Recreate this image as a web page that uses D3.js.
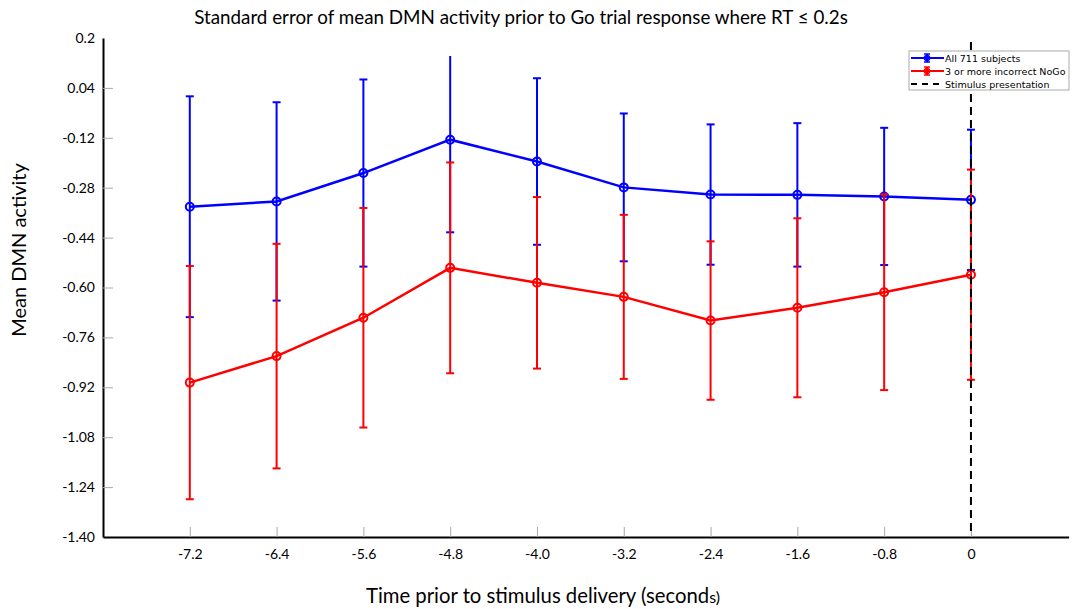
<!DOCTYPE html>
<html>
<head>
<meta charset="utf-8">
<script src="https://cdn.jsdelivr.net/npm/d3@7"></script>
<style>
  body { margin: 0; background: #fff; }
  svg { display: block; font-family: Lato, "Open Sans", sans-serif; }
</style>
</head>
<body>
<div id="chart"></div>
<script>
// time points (seconds before stimulus)
const times = [-7.2, -6.4, -5.6, -4.8, -4.0, -3.2, -2.4, -1.6, -0.8, 0];
const xTickLabels = ["-7.2", "-6.4", "-5.6", "-4.8", "-4.0", "-3.2", "-2.4", "-1.6", "-0.8", "0"];
const yTickLabels = ["0.2", "0.04", "-0.12", "-0.28", "-0.44", "-0.60", "-0.76", "-0.92", "-1.08", "-1.24", "-1.40"];

// All 711 subjects
const allMean = [-0.341, -0.324, -0.233, -0.126, -0.196, -0.279, -0.302, -0.303, -0.308, -0.319];
const allSE   = [0.354, 0.318, 0.300, 0.297, 0.267, 0.237, 0.225, 0.230, 0.220, 0.225];
// 3 or more incorrect NoGo
const nogoMean = [-0.905, -0.820, -0.697, -0.537, -0.585, -0.630, -0.706, -0.665, -0.615, -0.559];
const nogoSE   = [0.374, 0.360, 0.352, 0.338, 0.275, 0.263, 0.254, 0.287, 0.314, 0.337];

const seriesNames = ["All 711 subjects", "3 or more incorrect NoGo", "Stimulus presentation"];
const stimTime = 0;

const width = 1075, height = 609;
const svg = d3.select("#chart").append("svg")
    .attr("width", width)
    .attr("height", height);

const x = d3.scaleLinear().domain([-8, 0.9]).range([103, 1068.6]);
const y = d3.scaleLinear().domain([-1.4, 0.2]).range([537, 38]);

// plot was cropped a bit under the top label
svg.append("clipPath").attr("id", "clip")
  .append("rect")
    .attr("x", 103).attr("y", 56)
    .attr("width", 1000).attr("height", 481);

// axes
const yAxis = d3.axisLeft(y)
    .tickValues(yTickLabels.map(Number))
    .tickFormat((d, i) => yTickLabels[i])
    .tickSize(-10)
    .tickSizeOuter(0)
    .tickPadding(8);

const xAxis = d3.axisBottom(x)
    .tickValues(times)
    .tickFormat((d, i) => xTickLabels[i])
    .tickSize(-10)
    .tickSizeOuter(0)
    .tickPadding(12);

const gy = svg.append("g").attr("transform", "translate(103,0)").call(yAxis);
const gx = svg.append("g").attr("transform", "translate(0,537)").call(xAxis);

[gx, gy].forEach(g => {
  g.select(".domain").attr("stroke", "#000").attr("stroke-width", 2);
  g.selectAll(".tick line").attr("stroke", "#aaa").attr("stroke-width", 1);
  g.selectAll(".tick text").attr("font-size", 14).attr("fill", "#000")
    .attr("font-family", "Lato, 'Open Sans', sans-serif");
});
gy.selectAll(".tick").filter((d, i) => i === 0 || i === yTickLabels.length - 1)
  .select("line").remove();

// series
const plot = svg.append("g").attr("clip-path", "url(#clip)");

function drawSeries(means, ses, color) {
  const pts = times.map((t, i) => ({t: t, m: means[i], s: ses[i]}));
  const g = plot.append("g");

  g.selectAll(".bar").data(pts).enter().append("line")
    .attr("x1", d => x(d.t)).attr("x2", d => x(d.t))
    .attr("y1", d => y(d.m + d.s)).attr("y2", d => y(d.m - d.s))
    .attr("stroke", color).attr("stroke-width", 2);

  [1, -1].forEach(sign => {
    g.selectAll(".cap" + sign).data(pts).enter().append("line")
      .attr("x1", d => x(d.t) - 4).attr("x2", d => x(d.t) + 4)
      .attr("y1", d => y(d.m + sign * d.s)).attr("y2", d => y(d.m + sign * d.s))
      .attr("stroke", color).attr("stroke-width", 2);
  });

  g.append("path").datum(pts)
    .attr("fill", "none").attr("stroke", color).attr("stroke-width", 2.5)
    .attr("d", d3.line().x(d => x(d.t)).y(d => y(d.m)));

  g.selectAll("circle").data(pts).enter().append("circle")
    .attr("cx", d => x(d.t)).attr("cy", d => y(d.m)).attr("r", 4)
    .attr("fill", "none").attr("stroke", color).attr("stroke-width", 2);
}

drawSeries(allMean, allSE, "#0000ff");
drawSeries(nogoMean, nogoSE, "#ff0000");

// stimulus line
svg.append("line")
  .attr("x1", x(stimTime)).attr("x2", x(stimTime))
  .attr("y1", 42).attr("y2", 536)
  .attr("stroke", "#000").attr("stroke-width", 2)
  .attr("stroke-dasharray", "8,5");

// legend
const lg = svg.append("g").attr("transform", "translate(909,51)");
lg.append("rect").attr("width", 160).attr("height", 39)
  .attr("fill", "#fff").attr("stroke", "#aaa").attr("stroke-width", 1);
const legColors = ["#0000ff", "#ff0000", "#000"];
seriesNames.forEach((name, i) => {
  const yy = 7 + i * 13;
  const row = lg.append("g");
  row.append("line").attr("x1", 2).attr("x2", 35).attr("y1", yy).attr("y2", yy)
    .attr("stroke", legColors[i]).attr("stroke-width", 2)
    .attr("stroke-dasharray", i === 2 ? "6,5" : null);
  if (i < 2) {
    row.append("line").attr("x1", 18).attr("x2", 18).attr("y1", yy - 4).attr("y2", yy + 4)
      .attr("stroke", legColors[i]).attr("stroke-width", 2);
    [-4, 4].forEach(o => row.append("line").attr("x1", 15).attr("x2", 21)
      .attr("y1", yy + o).attr("y2", yy + o).attr("stroke", legColors[i]).attr("stroke-width", 1.5));
    row.append("circle").attr("cx", 18).attr("cy", yy).attr("r", 2.5)
      .attr("fill", "none").attr("stroke", legColors[i]).attr("stroke-width", 1.5);
  }
  row.append("text").attr("x", 36).attr("y", yy + 3.5)
    .attr("font-size", 9.5).attr("font-family", "'DejaVu Sans', sans-serif")
    .text(name);
});

// titles
svg.append("text")
  .attr("x", 521).attr("y", 24)
  .attr("text-anchor", "middle").attr("font-size", 18.8)
  .text("Standard error of mean DMN activity prior to Go trial response where RT \u2264 0.2s");

svg.append("text")
  .attr("transform", "translate(26,250) rotate(-90)")
  .attr("text-anchor", "middle").attr("font-size", 20)
  .text("Mean DMN activity");

const xl = svg.append("text")
  .attr("x", 366).attr("y", 603)
  .attr("font-size", 20.3)
  .text("Time prior to stimulus delivery (second");
xl.append("tspan").attr("font-size", 16).text("s)");
</script>
</body>
</html>
